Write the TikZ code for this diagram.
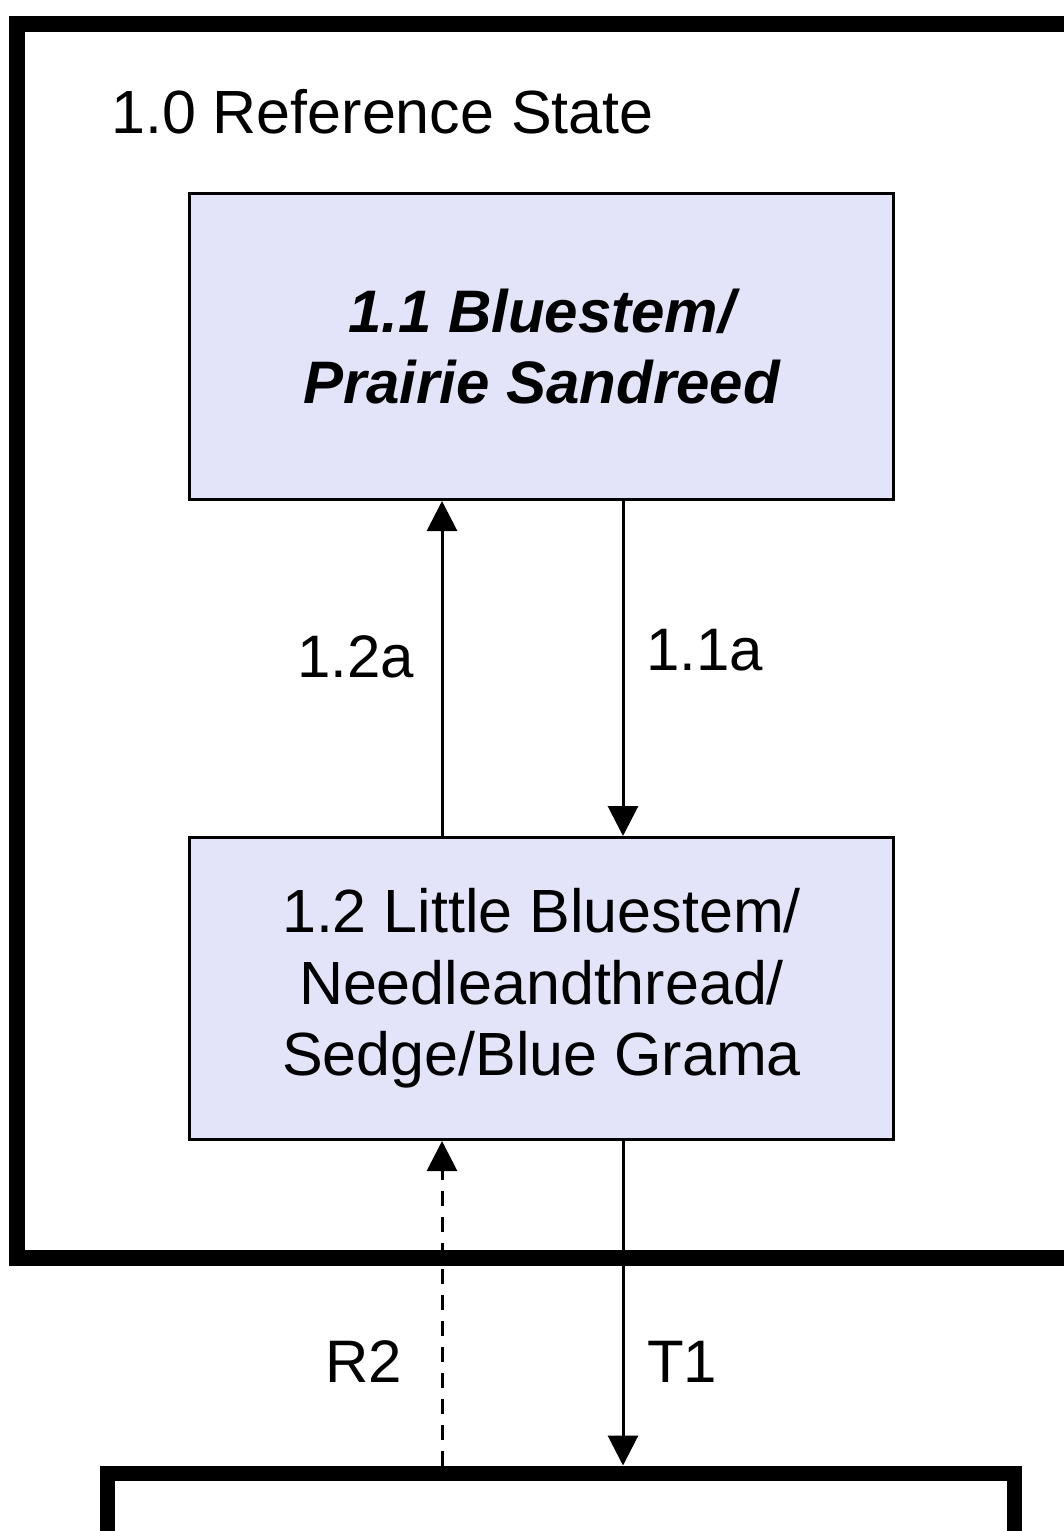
\documentclass[tikz,border=0pt]{standalone}
\usepackage{fontspec}
\setmainfont{Liberation Sans}
\usetikzlibrary{arrows.meta}
\definecolor{boxfill}{RGB}{227,227,250}
\begin{document}
\begin{tikzpicture}[x=1pt,y=-1pt,
  statebox/.style={draw=black, line width=3pt, fill=boxfill, minimum width=704pt, inner sep=0pt, align=center, font=\fontsize{61}{71.5}\selectfont},
  framebox/.style={draw=black, line width=16pt, inner sep=0pt, fill=none},
  lbl/.style={font=\fontsize{60}{71}\selectfont, inner sep=0pt, anchor=base west},
  conn/.style={line width=3pt, -{Triangle[length=30pt,width=30pt]}},
]
\useasboundingbox (0,0) rectangle (1064,1531);
\clip (0,0) rectangle (1064,1531);

% outer reference-state frame (extends past right edge)
\node[framebox, minimum width=1103.5pt, minimum height=1234pt] (frame) at (568.25,641) {};
% lower frame (extends past bottom edge)
\node[framebox, line width=15pt, minimum width=907pt, minimum height=227pt] (lower) at (561,1586.5) {};

\node[lbl, font=\fontsize{61}{71}\selectfont] (title) at (111,133) {1.0 Reference State};

\node[statebox, minimum height=306pt, font=\fontsize{60}{71}\selectfont\bfseries\itshape] (s11) at (541.5,346.5) {1.1 Bluestem/\\Prairie Sandreed};
\node[statebox, minimum height=302pt] (s12) at (541.5,988.5) {1.2 Little Bluestem/\\Needleandthread/\\Sedge/Blue Grama};

\coordinate (xl) at (442,0);
\coordinate (xr) at (623,0);

\draw[conn] (s12.north -| xl) -- (s11.south -| xl);
\draw[conn] (s11.south -| xr) -- (s12.north -| xr);
\draw[conn, dash pattern=on 15pt off 11pt] (lower.north -| xl) -- (s12.south -| xl);
\draw[conn] (s12.south -| xr) -- (lower.north -| xr);

\node[lbl] (l12a) at (297,677) {1.2a};
\node[lbl] (l11a) at (646,670) {1.1a};
\node[lbl] (lr2) at (325,1382) {R2};
\node[lbl] (lt1) at (647,1382) {T1};
\end{tikzpicture}
\end{document}
